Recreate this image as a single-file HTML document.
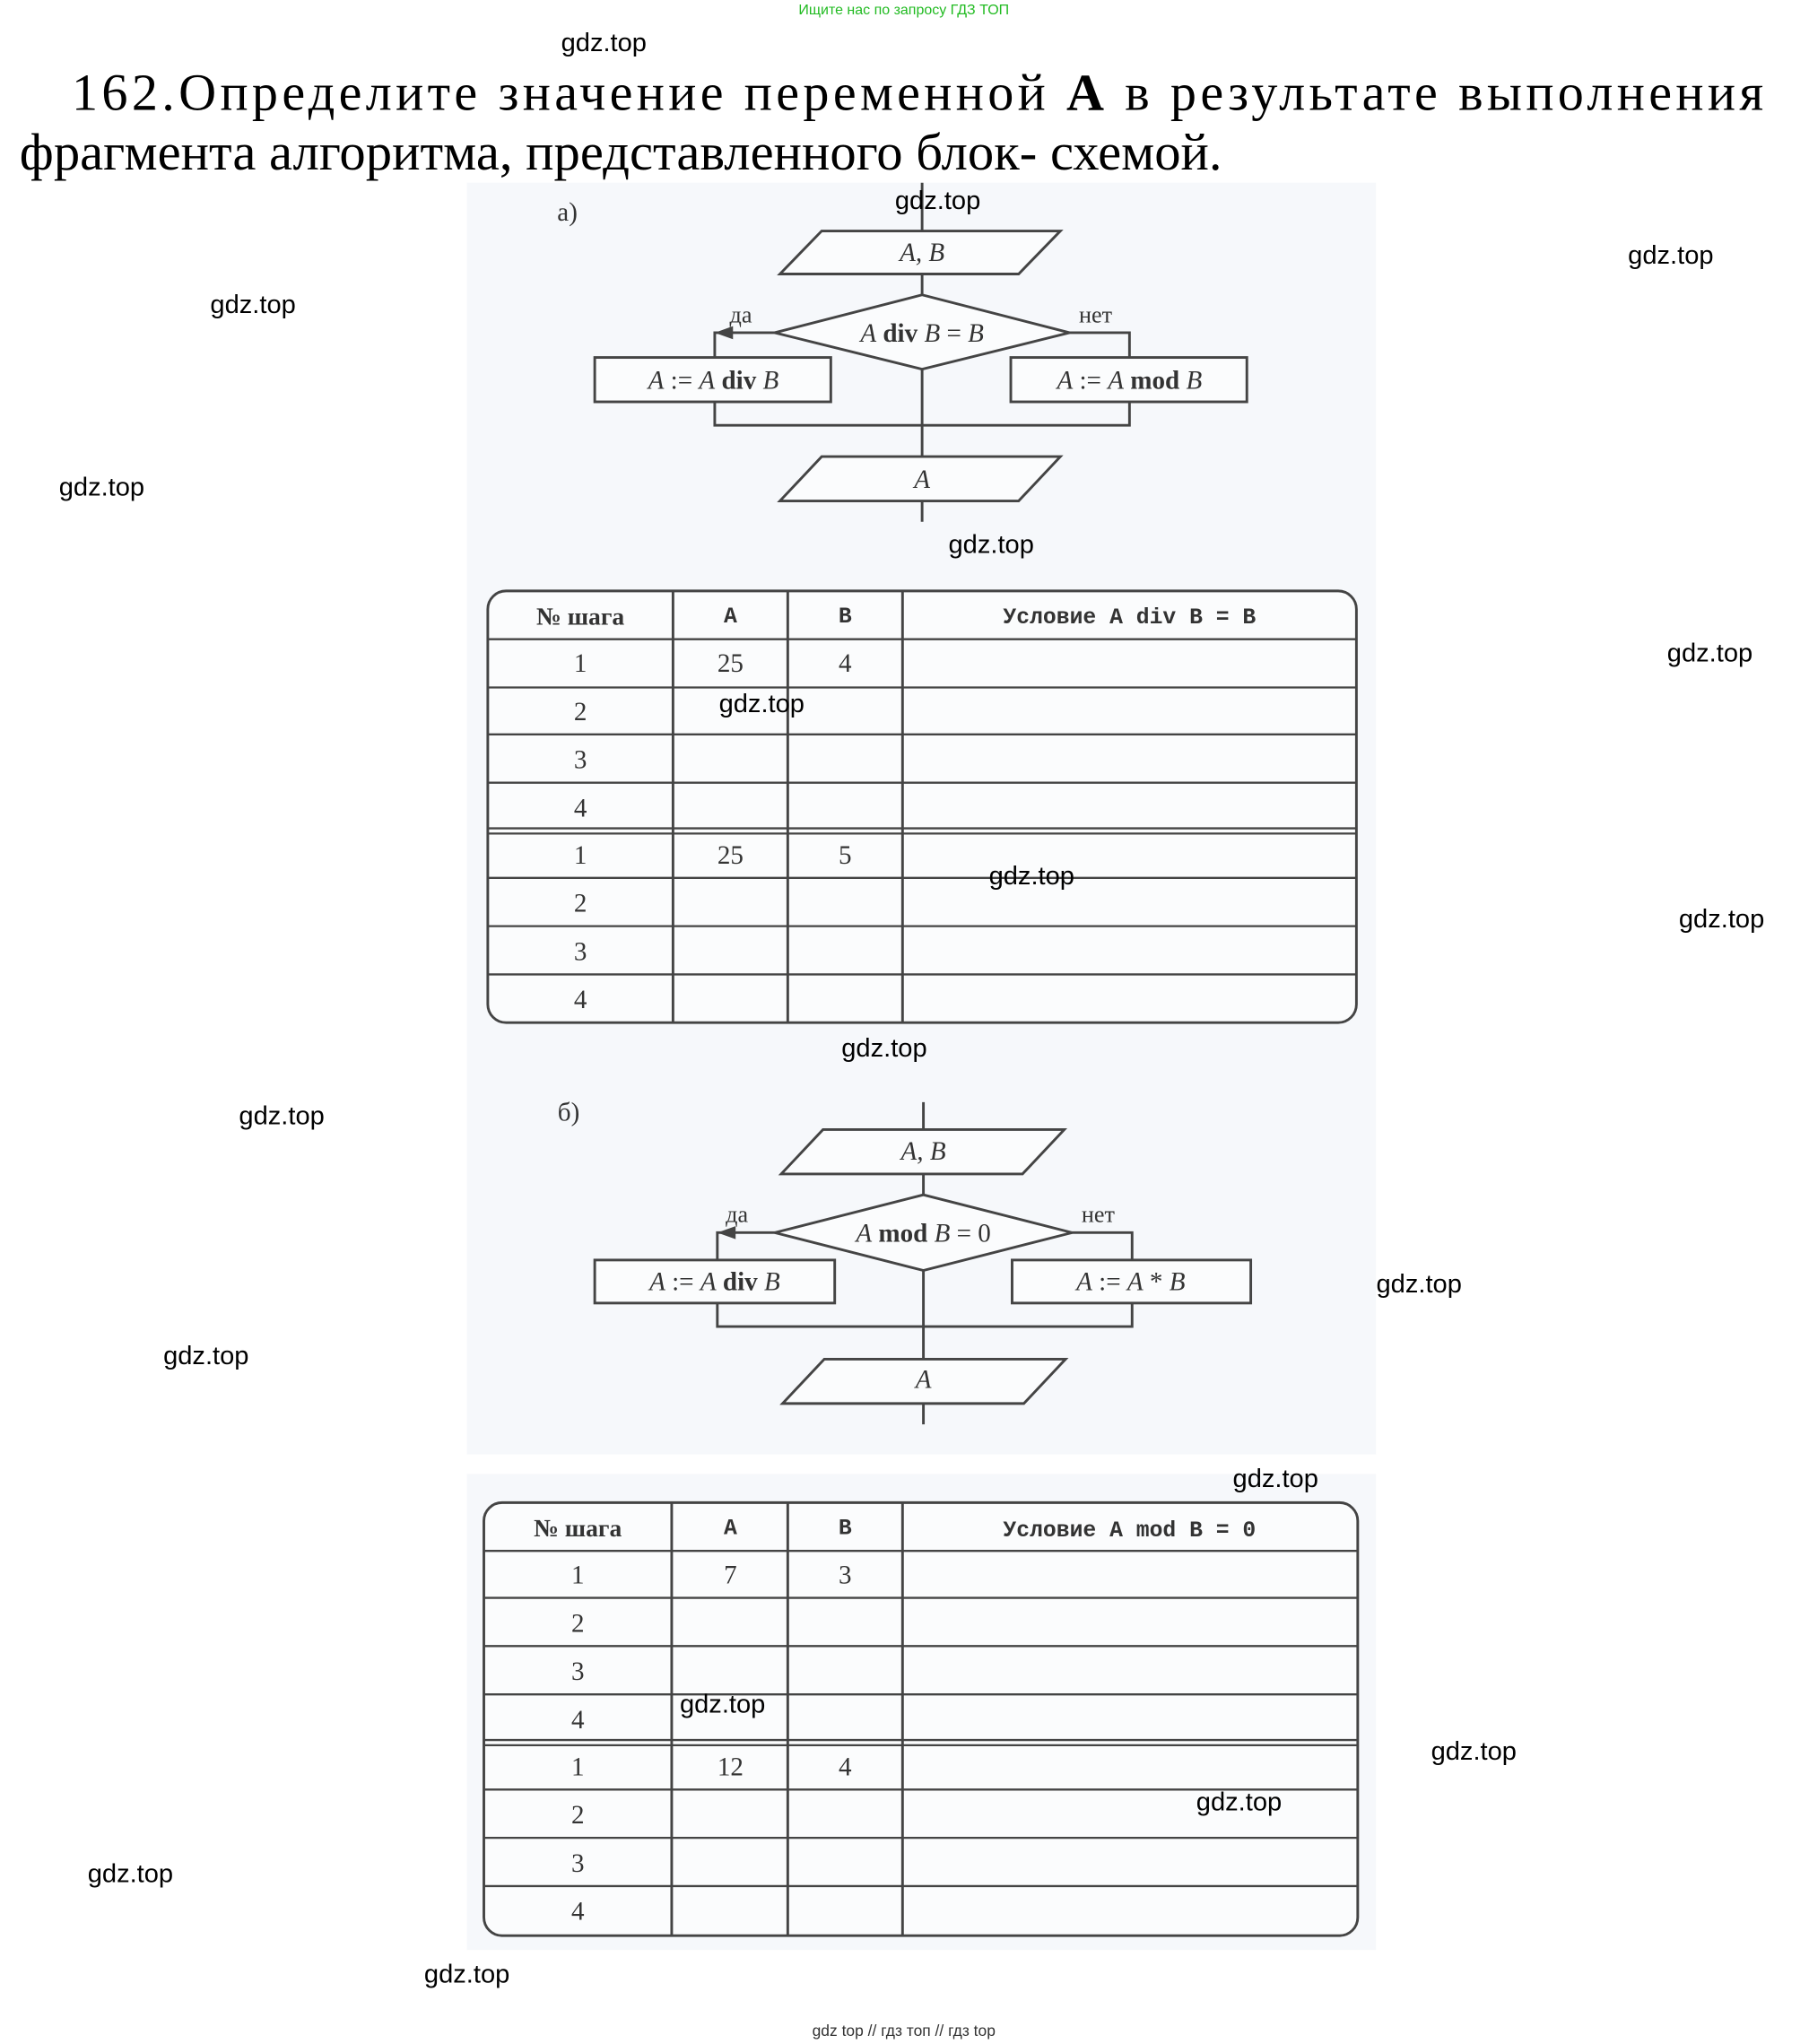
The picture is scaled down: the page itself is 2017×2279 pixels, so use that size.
<!DOCTYPE html>
<html><head><meta charset="utf-8"><style>
html,body{margin:0;padding:0;background:#fff;}
svg{display:block;}
.w{font-family:"Liberation Sans",sans-serif;font-size:20px;fill:#000;text-anchor:middle;}
.s{font-family:"Liberation Serif","Noto Serif CJK SC",serif;fill:#333;}
.i{font-style:italic;}
.m{font-family:"Liberation Mono",monospace;font-weight:bold;fill:#333;font-size:17px;}
.n{font-family:"Liberation Serif",serif;font-size:20px;fill:#333;text-anchor:middle;}
</style></head><body>
<svg width="2017" height="2279" viewBox="0 0 1387 1567" xmlns="http://www.w3.org/2000/svg">
<rect x="358" y="140" width="697" height="975" fill="#f6f8fb"/>
<rect x="358" y="1130" width="697" height="365" fill="#f6f8fb"/>
<text x="693" y="11" font-family="Liberation Sans,sans-serif" font-size="11" fill="#22bb22" text-anchor="middle">Ищите нас по запросу ГДЗ ТОП</text>
<text class="s" x="55" y="84" font-size="40" textLength="1297" lengthAdjust="spacing" style="fill:#000">162.Определите значение переменной <tspan font-weight="bold">A</tspan> в результате выполнения</text>
<text class="s" x="15" y="130" font-size="40" textLength="922" lengthAdjust="spacingAndGlyphs" style="fill:#000">фрагмента алгоритма, представленного блок- схемой.</text>

<g stroke="#444" stroke-width="2" fill="none">
<line x1="707" y1="140" x2="707" y2="400"/>
<polygon points="630,177 813,177 781,210 598,210" fill="#fbfcfd"/>
<polygon points="707,226 820,255 707,283 594,255" fill="#fbfcfd"/>
<polyline points="594,255 548,255 548,326 866,326 866,255 820,255"/>
<rect x="456" y="274" width="181" height="34" fill="#fbfcfd"/>
<rect x="775" y="274" width="181" height="34" fill="#fbfcfd"/>
<polygon points="630,350 813,350 781,384 598,384" fill="#fbfcfd"/>
<line x1="708" y1="845" x2="708" y2="1092"/>
<polygon points="631,866 816,866 784,900 599,900" fill="#fbfcfd"/>
<polygon points="708,916 822,945 708,974 594,945" fill="#fbfcfd"/>
<polyline points="594,945 550,945 550,1017 868,1017 868,945 822,945"/>
<rect x="456" y="966" width="184" height="33" fill="#fbfcfd"/>
<rect x="776" y="966" width="183" height="33" fill="#fbfcfd"/>
<polygon points="632,1042 817,1042 785,1076 600,1076" fill="#fbfcfd"/>
<rect x="374" y="453" width="666" height="331" rx="14" fill="#fbfcfd"/>
<line x1="516" y1="453" x2="516" y2="784"/><line x1="604" y1="453" x2="604" y2="784"/><line x1="692" y1="453" x2="692" y2="784"/>
<path d="M374 490H1040M374 527H1040M374 563H1040M374 600H1040M374 635H1040M374 639H1040M374 673H1040M374 710H1040M374 747H1040" stroke-width="1.6"/>
<rect x="371" y="1152" width="670" height="332" rx="14" fill="#fbfcfd"/>
<line x1="515" y1="1152" x2="515" y2="1484"/><line x1="604" y1="1152" x2="604" y2="1484"/><line x1="692" y1="1152" x2="692" y2="1484"/>
<path d="M371 1189H1041M371 1225H1041M371 1262H1041M371 1299H1041M371 1334H1041M371 1338H1041M371 1372H1041M371 1409H1041M371 1446H1041" stroke-width="1.6"/>
</g>
<polygon points="548,255 562,250 562,260" fill="#444"/>
<polygon points="550,945 564,940 564,950" fill="#444"/>

<g class="s" font-size="20" text-anchor="middle">
<text x="435" y="169">а)</text>
<text x="707" y="200" class="s i">A, B</text>
<text x="707" y="262"><tspan font-style="italic">A</tspan> <tspan font-weight="bold">div</tspan> <tspan font-style="italic">B</tspan> = <tspan font-style="italic">B</tspan></text>
<text x="568" y="247" font-size="18">да</text>
<text x="840" y="247" font-size="18">нет</text>
<text x="547" y="298"><tspan font-style="italic">A</tspan> := <tspan font-style="italic">A</tspan> <tspan font-weight="bold">div</tspan> <tspan font-style="italic">B</tspan></text>
<text x="866" y="298"><tspan font-style="italic">A</tspan> := <tspan font-style="italic">A</tspan> <tspan font-weight="bold">mod</tspan> <tspan font-style="italic">B</tspan></text>
<text x="707" y="374" font-style="italic">A</text>
<text x="436" y="859">б)</text>
<text x="708" y="889" font-style="italic">A, B</text>
<text x="708" y="952"><tspan font-style="italic">A</tspan> <tspan font-weight="bold">mod</tspan> <tspan font-style="italic">B</tspan> = 0</text>
<text x="565" y="937" font-size="18">да</text>
<text x="842" y="937" font-size="18">нет</text>
<text x="548" y="989"><tspan font-style="italic">A</tspan> := <tspan font-style="italic">A</tspan> <tspan font-weight="bold">div</tspan> <tspan font-style="italic">B</tspan></text>
<text x="867" y="989"><tspan font-style="italic">A</tspan> := <tspan font-style="italic">A</tspan> * <tspan font-style="italic">B</tspan></text>
<text x="708" y="1064" font-style="italic">A</text>
</g>

<g class="m" text-anchor="middle">
<text x="445" y="479"><tspan font-family="Liberation Serif,serif" font-size="19">№ шага</tspan></text>
<text x="560" y="477">A</text><text x="648" y="477">B</text>
<text x="866" y="478">Условие A div B = B</text>
<text x="443" y="1178"><tspan font-family="Liberation Serif,serif" font-size="19">№ шага</tspan></text>
<text x="560" y="1176">A</text><text x="648" y="1176">B</text>
<text x="866" y="1178">Условие A mod B = 0</text>
</g>
<g class="n">
<text x="445" y="515">1</text><text x="560" y="515">25</text><text x="648" y="515">4</text>
<text x="445" y="552">2</text><text x="445" y="589">3</text><text x="445" y="626">4</text>
<text x="445" y="662">1</text><text x="560" y="662">25</text><text x="648" y="662">5</text>
<text x="445" y="699">2</text><text x="445" y="736">3</text><text x="445" y="773">4</text>
<text x="443" y="1214">1</text><text x="560" y="1214">7</text><text x="648" y="1214">3</text>
<text x="443" y="1251">2</text><text x="443" y="1288">3</text><text x="443" y="1325">4</text>
<text x="443" y="1361">1</text><text x="560" y="1361">12</text><text x="648" y="1361">4</text>
<text x="443" y="1398">2</text><text x="443" y="1435">3</text><text x="443" y="1472">4</text>
</g>

<g class="w">
<text x="463" y="39">gdz.top</text><text x="719" y="160">gdz.top</text><text x="1281" y="202">gdz.top</text>
<text x="194" y="240">gdz.top</text><text x="78" y="380">gdz.top</text><text x="760" y="424">gdz.top</text>
<text x="1311" y="507">gdz.top</text><text x="584" y="546">gdz.top</text><text x="791" y="678">gdz.top</text>
<text x="1320" y="711">gdz.top</text><text x="678" y="810">gdz.top</text><text x="216" y="862">gdz.top</text>
<text x="1088" y="991">gdz.top</text><text x="158" y="1046">gdz.top</text><text x="978" y="1140">gdz.top</text>
<text x="554" y="1313">gdz.top</text><text x="1130" y="1349">gdz.top</text><text x="950" y="1388">gdz.top</text>
<text x="100" y="1443">gdz.top</text><text x="358" y="1520">gdz.top</text>
</g>
<text x="693" y="1561" font-family="Liberation Sans,sans-serif" font-size="12" fill="#333" text-anchor="middle">gdz top // гдз топ // гдз top</text>
</svg>
</body></html>
